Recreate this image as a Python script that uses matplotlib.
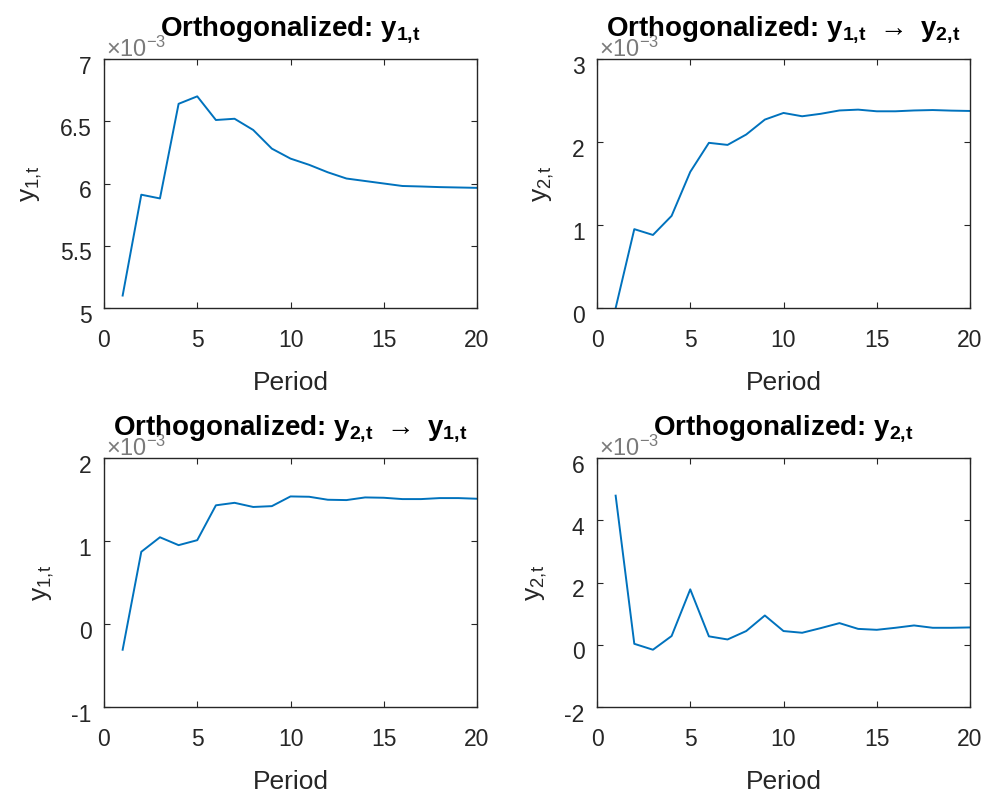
import matplotlib
matplotlib.use("Agg")
import matplotlib.pyplot as plt
from matplotlib.ticker import FuncFormatter
from matplotlib.transforms import ScaledTranslation

plt.rcParams['font.family'] = ['Liberation Sans', 'DejaVu Sans']
plt.rcParams['mathtext.fontset'] = 'custom'
plt.rcParams['mathtext.rm'] = 'Liberation Sans'
plt.rcParams['mathtext.bf'] = 'Liberation Sans:bold'

# impulse responses, in units of 1e-3
period = list(range(1, 21))
y1_y1 = [5.10, 5.91, 5.88, 6.64, 6.70, 6.51, 6.52, 6.43, 6.28, 6.20,
         6.15, 6.09, 6.04, 6.02, 6.00, 5.98, 5.976, 5.971, 5.968, 5.965]
y1_y2 = [0.0, 0.95, 0.88, 1.11, 1.64, 1.99, 1.965, 2.09, 2.27, 2.35,
         2.31, 2.34, 2.38, 2.39, 2.37, 2.37, 2.38, 2.385, 2.378, 2.374]
y2_y1 = [-0.31, 0.87, 1.045, 0.95, 1.01, 1.43, 1.46, 1.41, 1.42, 1.537,
         1.533, 1.497, 1.493, 1.525, 1.521, 1.505, 1.505, 1.517, 1.517, 1.509]
y2_y2 = [4.79, 0.03, -0.16, 0.28, 1.78, 0.27, 0.17, 0.44, 0.94, 0.44,
         0.385, 0.535, 0.695, 0.51, 0.48, 0.545, 0.62, 0.545, 0.545, 0.556]

titles = [r'Orthogonalized: $\mathbf{y_{1,\!t}}$',
          r'Orthogonalized: $\mathbf{y_{1,\!t}}$ $\rightarrow$ $\mathbf{y_{2,\!t}}$',
          r'Orthogonalized: $\mathbf{y_{2,\!t}}$ $\rightarrow$ $\mathbf{y_{1,\!t}}$',
          r'Orthogonalized: $\mathbf{y_{2,\!t}}$']
ylabels = [r'$\mathrm{y_{1,\!t}}$', r'$\mathrm{y_{2,\!t}}$',
           r'$\mathrm{y_{1,\!t}}$', r'$\mathrm{y_{2,\!t}}$']
series = [y1_y1, y1_y2, y2_y1, y2_y2]
ylims = [(5, 7), (0, 3), (-1, 2), (-2, 6)]
yticks = [[5, 5.5, 6, 6.5, 7], [0, 1, 2, 3], [-1, 0, 1, 2], [-2, 0, 2, 4, 6]]

W, H = 989, 793
boxes = [(104, 59), (597, 59), (104, 458), (597, 458)]
aw, ah = 373, 249

fig = plt.figure(figsize=(W / 100, H / 100), dpi=100)
dark = '#262626'
shift = ScaledTranslation(0, -4 / 72, fig.dpi_scale_trans)
for i in range(4):
    l, t = boxes[i]
    ax = fig.add_axes([l / W, (H - t - ah) / H, aw / W, ah / H])
    ax.plot(period, series[i], color='#0072BD', lw=1.4)
    ax.set_xlim(0, 20)
    ax.set_ylim(*ylims[i])
    ax.set_xticks([0, 5, 10, 15, 20])
    ax.set_yticks(yticks[i])
    ax.yaxis.set_major_formatter(FuncFormatter(lambda v, p: '%g' % v))
    ax.tick_params(direction='in', top=True, right=True, length=4,
                   labelsize=16.5, colors=dark)
    ax.tick_params(axis='x', pad=15)
    ax.tick_params(axis='y', pad=9)
    for lab in ax.get_yticklabels():
        lab.set_transform(lab.get_transform() + shift)
    for s in ax.spines.values():
        s.set_color(dark)
        s.set_linewidth(1.0)
    ax.set_xlabel('Period', fontsize=19, color=dark, labelpad=14)
    ax.set_ylabel(ylabels[i], fontsize=19, color=dark, labelpad=11)
    ax.text(0.005, 0.99, r'$\times\mathrm{10^{-3}}$', transform=ax.transAxes,
            fontsize=17, color='#7a7a7a', ha='left', va='bottom')
    ax.set_title(titles[i], fontsize=20, fontweight='bold', pad=17)

fig.savefig('out.png', dpi=100)
